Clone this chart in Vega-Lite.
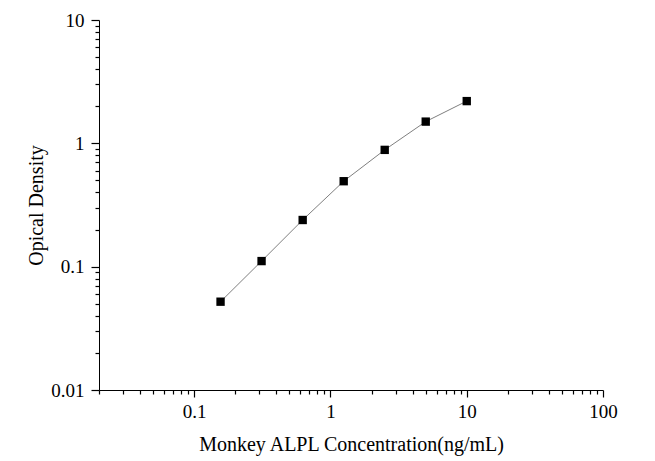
{
  "$schema": "https://vega.github.io/schema/vega-lite/v6.json",
  "autosize": "none",
  "padding": {"left": 99, "top": 20, "right": 52, "bottom": 71},
  "width": 504,
  "height": 370,
  "background": "white",
  "config": {
    "view": {"stroke": null},
    "axis": {
      "labelFont": "Liberation Serif",
      "titleFont": "Liberation Serif",
      "labelFontSize": 19,
      "titleFontSize": 20,
      "titleFontWeight": "normal",
      "labelColor": "black",
      "titleColor": "black",
      "domainColor": "black",
      "tickColor": "black",
      "domainWidth": 1,
      "tickWidth": 1.2,
      "grid": false,
      "labelOverlap": false,
      "labelFlush": false
    }
  },
  "data": {
    "values": [
      {"conc": 0.156, "od": 0.052},
      {"conc": 0.312, "od": 0.111},
      {"conc": 0.625, "od": 0.239},
      {"conc": 1.25, "od": 0.493},
      {"conc": 2.5, "od": 0.885},
      {"conc": 5, "od": 1.5},
      {"conc": 10, "od": 2.2}
    ]
  },
  "encoding": {
    "x": {
      "field": "conc",
      "type": "quantitative",
      "scale": {"type": "log", "domain": [0.02, 100], "nice": false},
      "axis": {
        "title": "Monkey ALPL Concentration(ng/mL)",
        "values": [0.02, 0.03, 0.04, 0.05, 0.06, 0.07, 0.08, 0.09, 0.1, 0.2, 0.3, 0.4, 0.5, 0.6, 0.7, 0.8, 0.9, 1, 2, 3, 4, 5, 6, 7, 8, 9, 10, 20, 30, 40, 50, 60, 70, 80, 90, 100],
        "format": "~g",
        "labelExpr": "abs(log(datum.value)/LN10 - round(log(datum.value)/LN10)) < 0.001 ? datum.label : ''",
        "tickSize": {"condition": {"test": "abs(log(datum.value)/LN10 - round(log(datum.value)/LN10)) < 0.001", "value": 7}, "value": 4},
        "labelPadding": 5,
        "titlePadding": 13
      }
    },
    "y": {
      "field": "od",
      "type": "quantitative",
      "scale": {"type": "log", "domain": [0.01, 10], "nice": false},
      "axis": {
        "title": "Opical Density",
        "values": [0.01, 0.02, 0.03, 0.04, 0.05, 0.06, 0.07, 0.08, 0.09, 0.1, 0.2, 0.3, 0.4, 0.5, 0.6, 0.7, 0.8, 0.9, 1, 2, 3, 4, 5, 6, 7, 8, 9, 10],
        "format": "~g",
        "labelExpr": "abs(log(datum.value)/LN10 - round(log(datum.value)/LN10)) < 0.001 ? datum.label : ''",
        "tickSize": {"condition": {"test": "abs(log(datum.value)/LN10 - round(log(datum.value)/LN10)) < 0.001", "value": 8}, "value": 4},
        "labelPadding": 7,
        "titlePadding": 4
      }
    }
  },
  "layer": [
    {"mark": {"type": "line", "color": "#7f7f7f", "strokeWidth": 1}},
    {"mark": {"type": "point", "shape": "square", "filled": true, "color": "black", "opacity": 1, "size": 70}}
  ]
}
